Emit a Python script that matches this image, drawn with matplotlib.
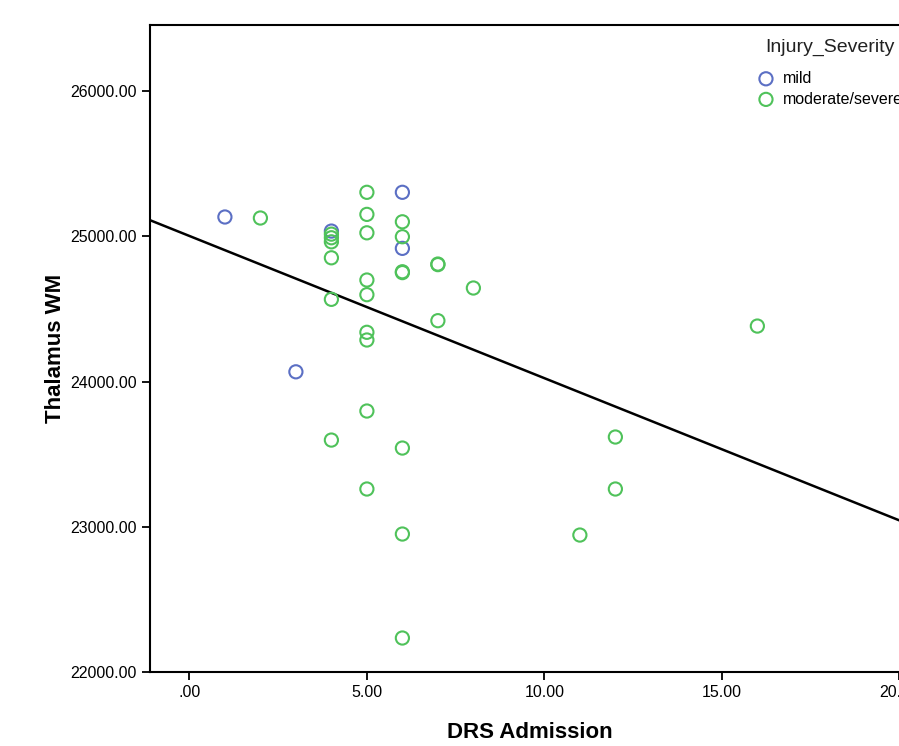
import numpy as np
import matplotlib.pyplot as plt

# DRS admission vs thalamus WM volume, by injury severity
mild_drs = [1, 3, 4, 6, 6]
mild_wm = [25133, 24067, 25036, 25303, 24917]

modsev_drs = [2, 4, 4, 4, 4, 4, 4,
              5, 5, 5, 5, 5, 5, 5, 5, 5,
              6, 6, 6, 6, 6, 6, 6,
              7, 7, 7, 8, 11, 12, 12, 16]
modsev_wm = [25126, 25015, 24990, 24962, 24852, 24566, 23597,
             25303, 25151, 25024, 24699, 24598, 24339, 24286, 23797, 23260,
             25100, 24997, 24756, 24750, 23542, 22950, 22234,
             24809, 24805, 24419, 24644, 22943, 23618, 23260, 24382]

x_ticks = [0, 5, 10, 15, 20]
x_labels = [".00", "5.00", "10.00", "15.00", "20.00"]
y_ticks = [22000, 23000, 24000, 25000, 26000]
y_labels = ["22000.00", "23000.00", "24000.00", "25000.00", "26000.00"]

blue = "#5b6fc4"
green = "#4fc25a"

plt.rcParams['font.family'] = ['Liberation Sans', 'DejaVu Sans']

fig = plt.figure(figsize=(8.99, 7.46), dpi=100)
ax = fig.add_axes([150 / 899, 74 / 746, 760 / 899, 647 / 746])

ax.scatter(mild_drs, mild_wm, s=90, facecolors='none', edgecolors=blue,
           linewidths=1.5, label='mild', zorder=3)
ax.scatter(modsev_drs, modsev_wm, s=90, facecolors='none', edgecolors=green,
           linewidths=1.5, label='moderate/severe', zorder=3)

# total fit line
all_x = np.array(mild_drs + modsev_drs)
all_y = np.array(mild_wm + modsev_wm)
slope, intercept = np.polyfit(all_x, all_y, 1)
xx = np.array([-1.2, 20.5])
ax.plot(xx, intercept + slope * xx, color='black', linewidth=1.8, zorder=2)

ax.set_xlim(-1.11, 20.3)
ax.set_ylim(22000, 26455)
ax.set_xticks(x_ticks)
ax.set_xticklabels(x_labels)
ax.set_yticks(y_ticks)
ax.set_yticklabels(y_labels)
ax.tick_params(direction='out', length=6, width=1.3, labelsize=11.5, color='black')
for s in ax.spines.values():
    s.set_linewidth(1.5)

ax.set_xlabel("DRS Admission", fontsize=16, fontweight='bold', labelpad=16)
ax.set_ylabel("Thalamus WM", fontsize=16, fontweight='bold', labelpad=3)

fig.text(765 / 899, 1 - 47 / 746, 'Injury_Severity', fontsize=14,
         ha='left', va='center', color='#222222')
leg = ax.legend(loc='upper left',
                bbox_to_anchor=(746 / 899, 1 - 63 / 746), bbox_transform=fig.transFigure,
                frameon=False, fontsize=11.5,
                handletextpad=0.3, labelspacing=0.35, borderpad=0, handlelength=1.5)

fig.savefig('out.png', dpi=100)
